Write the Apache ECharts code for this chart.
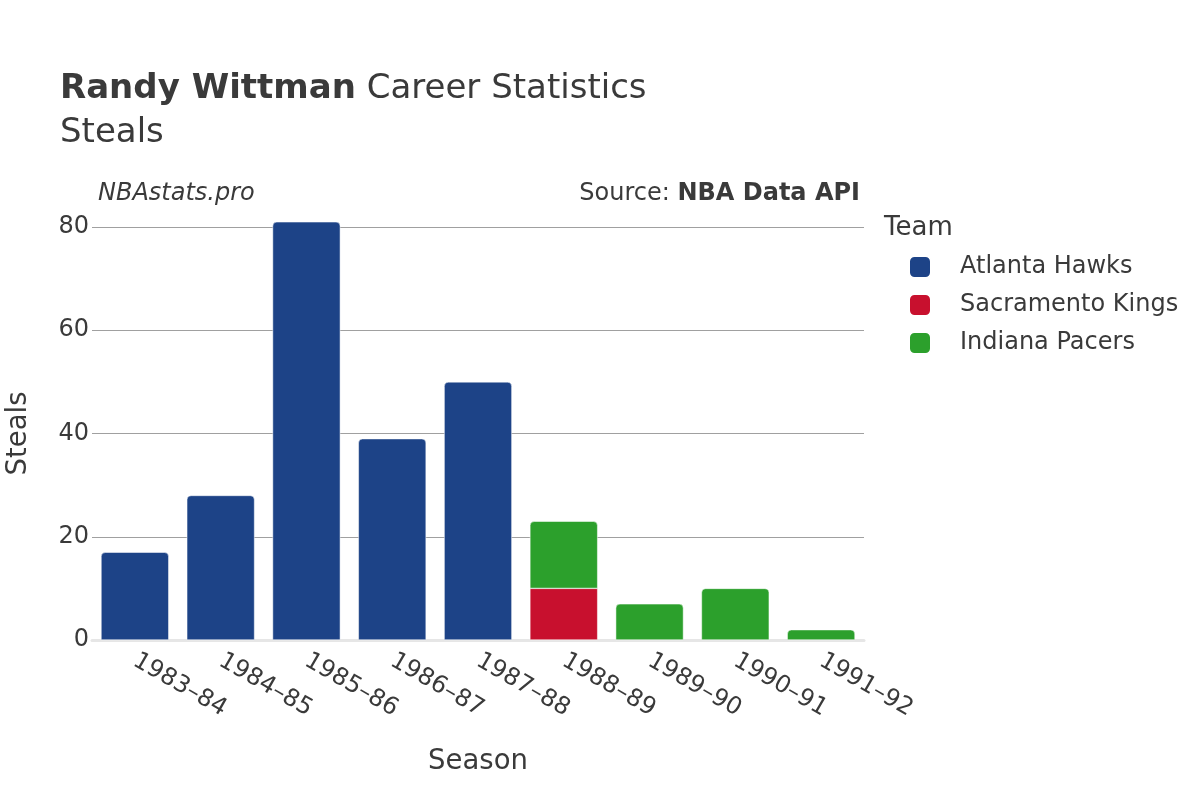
<!DOCTYPE html>
<html>
<head>
<meta charset="utf-8">
<script src="https://cdn.jsdelivr.net/npm/echarts@6/dist/echarts.min.js"></script>
<style>html,body{margin:0;padding:0;background:#fff;}#c{width:1200px;height:800px;}</style>
</head>
<body>
<div id="c"></div>
<script>
const seasons = ['1983–84','1984–85','1985–86','1986–87','1987–88','1988–89','1989–90','1990–91','1991–92'];
const atlantaHawks = [17, 28, 81, 39, 50, null, null, null, null];
const sacramentoKings = [null, null, null, null, null, 10, null, null, null];
const indianaPacers = [null, null, null, null, null, 13, 7, 10, 2];
const yTicks = [0, 20, 40, 60, 80];

const FONT = 'DejaVu Sans';
const TXT = '#3a3a3a';
const chart = echarts.init(document.getElementById('c'));
function barSeries(name, data, color) {
  return {
    name, type: 'bar', stack: 'team', data, clip: false,
    barWidth: '79%',
    itemStyle: { color, borderRadius: name === 'Sacramento Kings' ? 0 : [4, 4, 0, 0], borderColor: '#fff', borderWidth: 0.5 },
    emphasis: { disabled: true }
  };
}
chart.setOption({
  animation: false,
  textStyle: { fontFamily: FONT },
  title: {
    left: 55, top: 62,
    text: '{b|Randy Wittman}{n| Career Statistics}\n{n|Steals}',
    textStyle: {
      fontWeight: 'normal',
      rich: {
        b: { fontFamily: FONT, fontWeight: 'bold', fontSize: 34, color: TXT, lineHeight: 44 },
        n: { fontFamily: FONT, fontWeight: 'normal', fontSize: 34, color: TXT, lineHeight: 44 }
      }
    }
  },
  graphic: [
    { type: 'text', left: 98, top: 182, style: { text: 'NBAstats.pro', font: 'italic 24px "DejaVu Sans"', fill: TXT } },
    { type: 'text', right: 340, top: 182, style: { text: '{a|Source: }{b|NBA Data API}', rich: { a: { font: '24px "DejaVu Sans"', fill: TXT }, b: { font: 'bold 24px "DejaVu Sans"', fill: TXT } } } },
    { type: 'text', left: 884, top: 215, style: { text: 'Team', font: '26px "DejaVu Sans"', fill: TXT } }
  ],
  legend: {
    orient: 'vertical', left: 903, top: 250, itemGap: 14,
    itemWidth: 22, itemHeight: 22, icon: 'roundRect',
    textStyle: { fontFamily: FONT, fontSize: 24, color: TXT, padding: [0, 0, 0, 24] },
    data: ['Atlanta Hawks', 'Sacramento Kings', 'Indiana Pacers']
  },
  grid: { left: 92, right: 336, top: 227, bottom: 160, containLabel: false, outerBoundsMode: 'none' },
  xAxis: {
    type: 'category', data: seasons,
    name: 'Season', nameLocation: 'middle', nameGap: 108,
    nameTextStyle: { fontFamily: FONT, fontSize: 27.5, color: TXT },
    axisLine: { lineStyle: { color: '#e6e6e6', width: 3 } },
    axisTick: { show: false },
    axisLabel: { rotate: -30, fontFamily: FONT, fontSize: 24, color: TXT, margin: 19, interval: 0 }
  },
  yAxis: {
    type: 'value', min: 0, max: 80, interval: 20,
    name: 'Steals', nameLocation: 'middle', nameGap: 59, nameRotate: 90,
    nameTextStyle: { fontFamily: FONT, fontSize: 27.5, color: TXT },
    axisLine: { show: false }, axisTick: { show: false },
    axisLabel: { fontFamily: FONT, fontSize: 24, color: TXT, margin: 3, verticalAlign: 'middle', lineHeight: 24, padding: [6, 0, 0, 0], formatter: v => yTicks.includes(v) ? String(v) : '' },
    splitLine: { lineStyle: { color: '#a0a0a0', width: 1 } }
  },
  series: [
    barSeries('Atlanta Hawks', atlantaHawks, '#1d4387'),
    barSeries('Sacramento Kings', sacramentoKings, '#c8102e'),
    barSeries('Indiana Pacers', indianaPacers, '#2ca02c')
  ]
});
</script>
</body>
</html>
